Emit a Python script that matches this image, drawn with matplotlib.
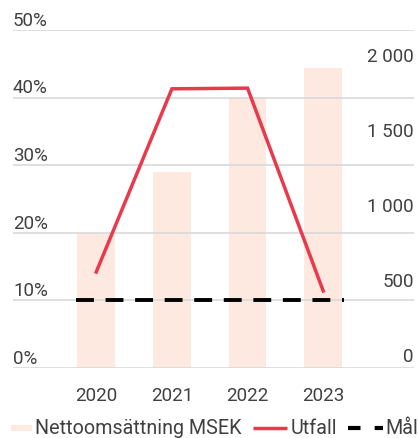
import matplotlib
matplotlib.use("Agg")
import matplotlib.pyplot as plt
from matplotlib.lines import Line2D
from matplotlib.legend_handler import HandlerLine2D
import matplotlib.transforms as mtransforms

plt.rcParams['font.family'] = ['Roboto', 'DejaVu Sans']

years = ["2020", "2021", "2022", "2023"]
revenue = [900, 1305, 1805, 2000]          # Nettoomsättning MSEK (right axis)
utfall = [14.2, 41.3, 41.4, 11.4]           # % (left axis)
target = 10.0                                # Mål %
left_ticks = [0, 10, 20, 30, 40, 50]
right_ticks = [0, 500, 1000, 1500, 2000]
right_labels = ["0", "500", "1 000", "1 500", "2 000"]

bar_color = "#fde9e0"
red = "#e83a4c"
grid_color = "#d9d9d9"
text_color = "#404040"
fs = 13.5
fs_leg = 14.2

fig = plt.figure(figsize=(4.18, 4.38), dpi=100)
W, H = 418, 438
ax = fig.add_axes([13 / W, (H - 368) / H, (414 - 13) / W, (368 - 30) / H])
ax2 = ax.twinx()

x = list(range(len(years)))
ax2.bar(x, revenue, width=0.5, color=bar_color, zorder=1)
ax2.set_ylim(0, 2253)
ax.set_ylim(0, 50)
ax.set_xlim(-1.1, 4.2)

ax.set_zorder(ax2.get_zorder() + 1)
ax.patch.set_visible(False)

for v in left_ticks:
    ax.axhline(v, color=grid_color, lw=1.2, zorder=0)

ax.plot(x, utfall, color=red, lw=2.5, zorder=3, solid_joinstyle='miter')
ax.plot([-0.27, 3.27], [target, target], color="black", lw=2.8,
        dashes=(4.6, 3.0), zorder=4)

for s in list(ax.spines.values()) + list(ax2.spines.values()):
    s.set_visible(False)

ax.set_yticks([])
ax2.set_yticks([])
ax.set_xticks(x)
ax.set_xticklabels(years, fontsize=fs, color=text_color)
ax.tick_params(axis='x', length=0, pad=14)

blend_l = mtransforms.blended_transform_factory(ax.transAxes, ax.transData)
blend_l = blend_l + mtransforms.ScaledTranslation(0, 3.0 / 72, fig.dpi_scale_trans)
for v in left_ticks:
    ax.text(0.0, v, f"{v}%", transform=blend_l, ha='left', va='baseline',
            fontsize=fs, color=text_color)

blend_r = mtransforms.blended_transform_factory(ax2.transAxes, ax2.transData)
blend_r = blend_r + mtransforms.ScaledTranslation(0, 4.0 / 72, fig.dpi_scale_trans)
for v, lab in zip(right_ticks, right_labels):
    ax2.text(1.0, v, lab, transform=blend_r, ha='right', va='baseline',
             fontsize=fs, color=text_color)


class ShortHandler(HandlerLine2D):
    def __init__(self, frac, **kw):
        super().__init__(**kw)
        self.frac = frac

    def create_artists(self, legend, orig_handle, xdescent, ydescent, width,
                       height, fontsize, trans):
        new_w = width * self.frac
        shift = width - new_w
        return super().create_artists(legend, orig_handle, xdescent - shift,
                                      ydescent, new_w, height, fontsize, trans)


h_bar = Line2D([0], [0], color=bar_color, lw=4.3, solid_capstyle='butt')
h_utf = Line2D([0], [0], color=red, lw=2.5, solid_capstyle='butt')
h_mal = Line2D([0], [0], color='black', lw=3, solid_capstyle='butt',
               dashes=(3.0, 3.4, 4.8, 0.4))
handles = [h_bar, h_utf, h_mal]
labels = ["Nettoomsättning MSEK", "Utfall", "Mål"]
leg = fig.legend(handles, labels, loc='center',
                 bbox_to_anchor=(208 / W, (H - 429) / H),
                 ncol=3, frameon=False, fontsize=fs_leg, handlelength=1.73,
                 handletextpad=0.15, columnspacing=0.6, labelcolor=text_color,
                 borderaxespad=0, borderpad=0,
                 handler_map={h_bar: ShortHandler(0.6)})

fig.savefig("out.png", dpi=100)
